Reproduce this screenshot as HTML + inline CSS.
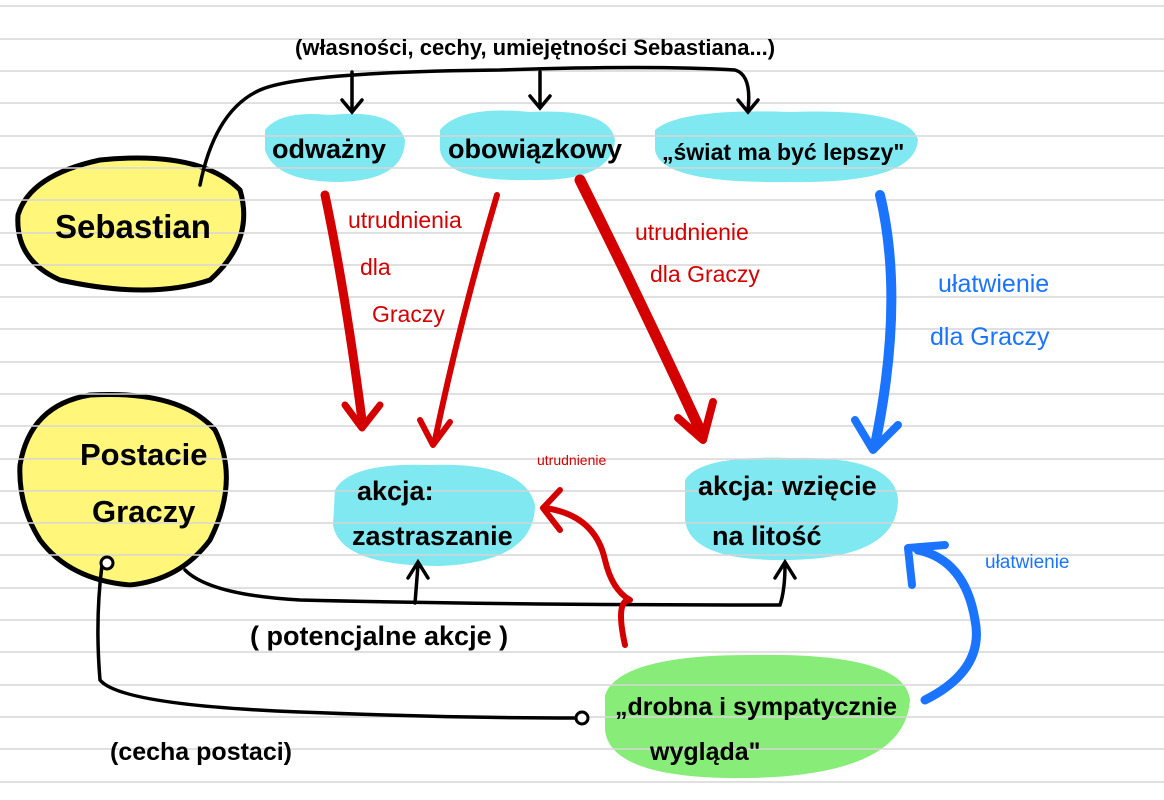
<!DOCTYPE html>
<html><head><meta charset="utf-8"><style>
html,body{margin:0;padding:0;background:#fff}
svg{display:block}
text{font-family:"Liberation Sans Narrow","Liberation Sans",sans-serif}
</style></head><body>
<svg width="1164" height="800" viewBox="0 0 1164 800" xmlns="http://www.w3.org/2000/svg">
<!-- blobs -->
<path d="M18,215 Q30,175 100,160 Q200,150 240,190 Q255,240 210,280 Q150,300 60,280 Q15,260 18,215Z" fill="#fff67a" stroke="#000" stroke-width="5"/>
<path d="M20,465 Q30,405 90,395 Q180,390 215,430 Q240,480 210,540 Q180,580 130,585 Q70,580 40,540 Q18,505 20,465Z" fill="#fff67a" stroke="#000" stroke-width="5"/>
<path d="M265,130 Q280,110 330,115 Q395,108 405,140 Q405,180 340,182 Q275,182 265,150Z" fill="#80e8f0"/>
<path d="M440,130 Q460,105 530,112 Q610,108 615,140 Q612,182 530,180 Q445,182 440,150Z" fill="#80e8f0"/>
<path d="M655,130 Q680,108 790,112 Q910,108 918,140 Q915,184 790,182 Q660,184 655,150Z" fill="#80e8f0"/>
<path d="M335,490 Q350,462 430,465 Q525,462 535,505 Q535,562 440,566 Q340,566 333,525Z" fill="#80e8f0"/>
<path d="M685,480 Q700,455 790,458 Q895,455 898,500 Q898,558 790,560 Q690,562 685,520Z" fill="#80e8f0"/>
<path d="M605,695 Q620,655 750,655 Q905,652 910,700 Q905,775 750,778 Q610,780 605,730Z" fill="#88ec78"/>
<!-- paper lines -->
<g stroke="#d6d6d6" stroke-width="1.5">
<line x1="0" x2="1164" y1="6" y2="6"/><line x1="0" x2="1164" y1="39" y2="39"/><line x1="0" x2="1164" y1="71" y2="71"/><line x1="0" x2="1164" y1="103" y2="103"/><line x1="0" x2="1164" y1="136" y2="136"/><line x1="0" x2="1164" y1="168" y2="168"/><line x1="0" x2="1164" y1="200" y2="200"/><line x1="0" x2="1164" y1="233" y2="233"/><line x1="0" x2="1164" y1="265" y2="265"/><line x1="0" x2="1164" y1="297" y2="297"/><line x1="0" x2="1164" y1="329" y2="329"/><line x1="0" x2="1164" y1="362" y2="362"/><line x1="0" x2="1164" y1="394" y2="394"/><line x1="0" x2="1164" y1="426" y2="426"/><line x1="0" x2="1164" y1="459" y2="459"/><line x1="0" x2="1164" y1="491" y2="491"/><line x1="0" x2="1164" y1="523" y2="523"/><line x1="0" x2="1164" y1="555" y2="555"/><line x1="0" x2="1164" y1="588" y2="588"/><line x1="0" x2="1164" y1="620" y2="620"/><line x1="0" x2="1164" y1="652" y2="652"/><line x1="0" x2="1164" y1="685" y2="685"/><line x1="0" x2="1164" y1="717" y2="717"/><line x1="0" x2="1164" y1="749" y2="749"/><line x1="0" x2="1164" y1="782" y2="782"/>
</g>
<!-- black connectors -->
<g fill="none" stroke="#000" stroke-width="3.5" stroke-linecap="round">
<path d="M200,185 Q215,110 260,90 Q300,72 500,70 Q650,65 735,70 Q752,75 748,110"/>
<path d="M738,100 L748,112 L758,100"/>
<path d="M352,72 L352,110 M342,100 L352,112 L362,100"/>
<path d="M540,72 L540,105 M530,96 L540,108 L550,96"/>
<path d="M185,570 Q210,595 300,600 Q500,605 780,605 Q785,590 785,565 M775,578 L785,562 L795,578"/>
<path d="M415,603 L418,565 M408,578 L418,562 L428,578"/>
<path d="M102,565 Q95,620 100,680 Q120,705 300,712 Q450,718 575,718"/>
</g>
<circle cx="107" cy="563" r="6" fill="#fff" stroke="#000" stroke-width="3"/>
<circle cx="582" cy="718" r="6" fill="#fff" stroke="#000" stroke-width="3"/>
<!-- red arrows -->
<g fill="none" stroke="#d40000" stroke-linecap="round" stroke-linejoin="round">
<path d="M325,195 Q345,290 362,420" stroke-width="9"/>
<path d="M345,405 L362,428 L380,405" stroke-width="7"/>
<path d="M497,195 Q460,320 435,440" stroke-width="6"/>
<path d="M420,420 L433,445 L450,422" stroke-width="6"/>
<path d="M580,180 Q640,300 700,430" stroke-width="11"/>
<path d="M678,418 L703,440 L713,402" stroke-width="8"/>
<path d="M625,645 Q615,600 630,600 Q612,590 605,560 Q595,515 545,508" stroke-width="6"/>
<path d="M560,490 L543,508 L560,530" stroke-width="6"/>
</g>
<!-- blue arrows -->
<g fill="none" stroke="#1a74ff" stroke-linecap="round" stroke-linejoin="round">
<path d="M880,195 Q905,300 875,445" stroke-width="10"/>
<path d="M855,420 L873,450 L898,425" stroke-width="8"/>
<path d="M925,700 Q985,670 975,620 Q965,560 918,550" stroke-width="9"/>
<path d="M912,585 L908,548 L945,545" stroke-width="8"/>
</g>
<!-- text -->
<g fill="#000" font-weight="bold">
<text x="295" y="55" font-size="22">(własności, cechy, umiejętności Sebastiana...)</text>
<text x="272" y="158" font-size="27">odważny</text>
<text x="448" y="158" font-size="27">obowiązkowy</text>
<text x="662" y="160" font-size="23">„świat ma być lepszy"</text>
<text x="55" y="238" font-size="33">Sebastian</text>
<text x="80" y="465" font-size="31">Postacie</text>
<text x="92" y="522" font-size="31">Graczy</text>
<text x="357" y="500" font-size="27">akcja:</text>
<text x="352" y="545" font-size="27">zastraszanie</text>
<text x="698" y="495" font-size="27">akcja: wzięcie</text>
<text x="712" y="545" font-size="27">na litość</text>
<text x="250" y="645" font-size="27">( potencjalne akcje )</text>
<text x="615" y="715" font-size="25">„drobna i sympatycznie</text>
<text x="650" y="760" font-size="25">wygląda"</text>
<text x="110" y="760" font-size="25">(cecha postaci)</text>
</g>
<g fill="#d40000">
<text x="348" y="228" font-size="23">utrudnienia</text>
<text x="360" y="275" font-size="23">dla</text>
<text x="372" y="322" font-size="23">Graczy</text>
<text x="635" y="240" font-size="23">utrudnienie</text>
<text x="650" y="282" font-size="23">dla Graczy</text>
<text x="537" y="465" font-size="14">utrudnienie</text>
</g>
<g fill="#1a74ff">
<text x="938" y="292" font-size="25">ułatwienie</text>
<text x="930" y="345" font-size="25">dla Graczy</text>
<text x="985" y="568" font-size="19">ułatwienie</text>
</g>
</svg>
</body></html>
